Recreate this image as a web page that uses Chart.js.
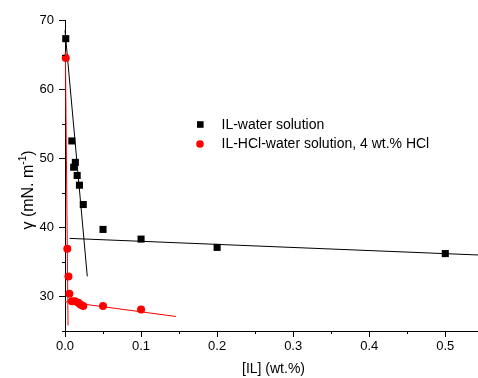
<!DOCTYPE html>
<html>
<head>
<meta charset="utf-8">
<script src="https://cdn.jsdelivr.net/npm/chart.js@4/dist/chart.umd.min.js"></script>
<style>
html,body{margin:0;padding:0;background:#fff;}
#wrap{width:478px;height:378px;position:relative;}
</style>
</head>
<body>
<div id="wrap"><canvas id="c" width="478" height="378"></canvas></div>
<script>
// ---- data ----
const waterX = [0.001, 0.009, 0.0114, 0.0136, 0.016, 0.019, 0.024, 0.05, 0.1, 0.2, 0.5];
const waterY = [67.3, 52.5, 48.7, 49.4, 47.5, 46.1, 43.3, 39.7, 38.3, 37.1, 36.2];
const hclX = [0.001, 0.003, 0.0045, 0.0057, 0.009, 0.013, 0.0175, 0.0206, 0.024, 0.05, 0.1];
const hclY = [64.5, 36.9, 32.9, 30.4, 29.3, 29.3, 29.1, 28.8, 28.6, 28.6, 28.1];
// fitted lines (end points)
const fitWaterSteep = [[0, 68.5], [0.0293, 32.9]];
const fitWaterFlat = [[0.006, 38.4], [0.543, 36.0]];
const fitHclSteep = [[0.0005, 65.5], [0.004, 25.8]];
const fitHclFlat = [[0, 29.25], [0.146, 27.1]];
// axes
const xMin = 0, xMax = 0.543, xStep = 0.05;
const yMin = 25, yMax = 70, yStep = 5;
const xTickLabels = ['0.0', '0.1', '0.2', '0.3', '0.4', '0.5'];
const yTickLabels = ['30', '40', '50', '60', '70'];
const seriesLabels = ['IL-water solution', 'IL-HCl-water solution, 4 wt.% HCl'];
const xTitle = '[IL] (wt.%)';

const FONT = "'Liberation Sans', Arial, sans-serif";
const toPts = (xs, ys) => xs.map((x, i) => ({x: x, y: ys[i]}));
const toLine = arr => arr.map(p => ({x: p[0], y: p[1]}));

function lineDs(arr, color) {
  return {data: toLine(arr), showLine: true, borderColor: color, borderWidth: 1,
    pointRadius: 0, pointHoverRadius: 0, fill: false, order: 2, clip: false, isFit: true};
}

const isMult = (v, s) => Math.abs(v / s - Math.round(v / s)) < 1e-6;

const ticksPlugin = {
  id: 'tickmarks',
  afterDraw(chart) {
    const ctx = chart.ctx;
    const xs = chart.scales.x, ys = chart.scales.y;
    const area = chart.chartArea;
    ctx.save();
    ctx.strokeStyle = '#000';
    ctx.lineWidth = 1;
    ctx.beginPath();
    xs.ticks.forEach(t => {
      const px = Math.round(xs.getPixelForValue(t.value)) + 0.5;
      const len = isMult(t.value, 0.1) ? 6 : 3;
      ctx.moveTo(px, area.bottom);
      ctx.lineTo(px, area.bottom + len);
    });
    ys.ticks.forEach(t => {
      const py = Math.round(ys.getPixelForValue(t.value)) + 0.5;
      const len = isMult(t.value, 10) ? 6 : 3;
      ctx.moveTo(area.left, py);
      ctx.lineTo(area.left - len, py);
    });
    ctx.stroke();

    // axis titles
    ctx.fillStyle = '#000';
    ctx.font = '14px ' + FONT;
    ctx.textAlign = 'center';
    ctx.textBaseline = 'middle';
    ctx.fillText(xTitle, (area.left + area.right) / 2 + 2, 369);

    // y title with superscript
    ctx.translate(27, 190);
    ctx.rotate(-Math.PI / 2);
    const mainFont = '16px ' + FONT, supFont = '10px ' + FONT;
    const p1 = '\u03b3 (mN. m', sup = '-1', p2 = ')';
    ctx.font = mainFont; const w1 = ctx.measureText(p1).width, w3 = ctx.measureText(p2).width;
    ctx.font = supFont; const w2 = ctx.measureText(sup).width;
    let x0 = -(w1 + w2 + w3) / 2;
    ctx.textAlign = 'left';
    ctx.textBaseline = 'alphabetic';
    ctx.font = mainFont; ctx.fillText(p1, x0, 6);
    ctx.font = supFont; ctx.fillText(sup, x0 + w1, -1);
    ctx.font = mainFont; ctx.fillText(p2, x0 + w1 + w2, 6);
    ctx.restore();

    // legend
    ctx.save();
    ctx.font = '14px ' + FONT;
    ctx.textBaseline = 'middle';
    ctx.textAlign = 'left';
    const ds = chart.data.datasets.filter(d => !d.isFit);
    ds.forEach((d, i) => {
      const cy = 124.5 + i * 19.5;
      ctx.fillStyle = d.backgroundColor;
      if (d.pointStyle === 'rect') {
        ctx.fillRect(197, cy - 3.3, 6.6, 6.6);
      } else {
        ctx.beginPath(); ctx.arc(200, cy, 3.8, 0, Math.PI * 2); ctx.fill();
      }
      ctx.fillStyle = '#000';
      ctx.fillText(d.label, 221.5, cy + 0.5);
    });
    ctx.restore();
  }
};

new Chart(document.getElementById('c'), {
  type: 'scatter',
  data: {
    datasets: [
      {label: seriesLabels[0], data: toPts(waterX, waterY), pointStyle: 'rect', pointRadius: 5,
        backgroundColor: '#000', borderColor: '#000', borderWidth: 0, order: 0, clip: false},
      {label: seriesLabels[1], data: toPts(hclX, hclY), pointStyle: 'circle', pointRadius: 4,
        backgroundColor: '#ff0000', borderColor: '#ff0000', borderWidth: 0, order: 1, clip: false},
      lineDs(fitWaterSteep, '#000'),
      lineDs(fitWaterFlat, '#000'),
      lineDs(fitHclSteep, '#ff0000'),
      lineDs(fitHclFlat, '#ff0000')
    ]
  },
  options: {
    responsive: false,
    animation: false,
    events: [],
    layout: {autoPadding: false, padding: {top: 20, right: 0, left: 0, bottom: 0}},
    plugins: {legend: {display: false}, tooltip: {enabled: false}, title: {display: false}},
    scales: {
      x: {
        type: 'linear', min: xMin, max: xMax,
        grid: {display: false, drawTicks: false},
        border: {display: true, color: '#000', width: 1},
        ticks: {
          stepSize: xStep, includeBounds: false, autoSkip: false, maxRotation: 0,
          color: '#000', font: {family: FONT, size: 13}, padding: 8,
          callback: v => {
            if (!isMult(v, 0.1)) return '';
            const i = Math.round(v / 0.1);
            return xTickLabels[i] !== undefined ? xTickLabels[i] : '';
          }
        },
        afterFit: s => { s.height = 47; }
      },
      y: {
        type: 'linear', min: yMin, max: yMax,
        grid: {display: false, drawTicks: false},
        border: {display: true, color: '#000', width: 1},
        ticks: {
          stepSize: yStep, includeBounds: false, autoSkip: false,
          color: '#000', font: {family: FONT, size: 13}, padding: 11,
          callback: v => {
            if (!isMult(v, 10)) return '';
            const i = Math.round((v - 30) / 10);
            return yTickLabels[i] !== undefined ? yTickLabels[i] : '';
          }
        },
        afterFit: s => { s.width = 65; }
      }
    }
  },
  plugins: [ticksPlugin]
});
</script>
</body>
</html>
